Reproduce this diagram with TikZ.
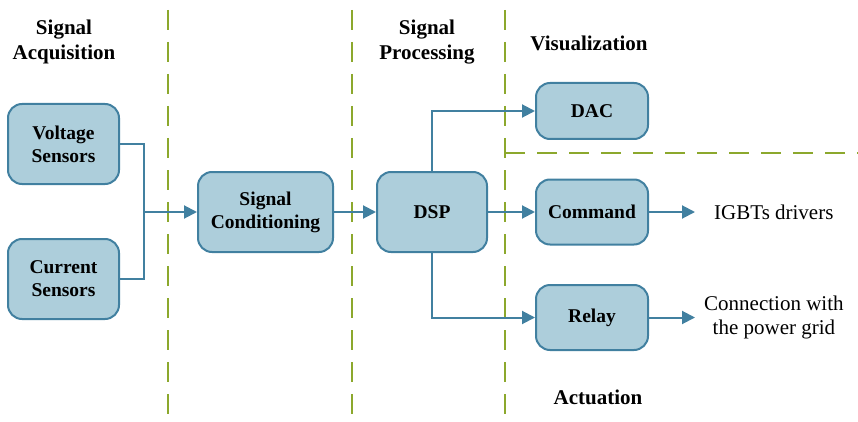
\documentclass[tikz,border=0pt]{standalone}
\usepackage{fontspec}
\setmainfont{Liberation Serif}
\usetikzlibrary{arrows.meta}
\definecolor{boxfill}{RGB}{173,206,219}
\definecolor{boxline}{RGB}{65,128,160}
\definecolor{sepgreen}{RGB}{140,168,45}
\begin{document}
\begin{tikzpicture}[x=1pt,y=-1pt,
  blk/.style={draw=boxline, fill=boxfill, line width=2pt, rounded corners=14pt,
    minimum width=111pt, minimum height=80pt, align=center, inner sep=0pt,
    font=\fontsize{19.5}{23}\selectfont\bfseries},
  ttl/.style={align=center, inner sep=0pt, font=\fontsize{21}{25}\selectfont\bfseries},
  plain/.style={align=center, inner sep=0pt, font=\fontsize{21}{24}\selectfont},
  conn/.style={draw=boxline, line width=2pt},
  arr/.style={conn, -{Triangle[length=13pt,width=13pt]}},
  sepline/.style={draw=sepgreen, line width=2.8pt, dash pattern=on 20pt off 12pt}
]
\useasboundingbox (0,0) rectangle (858,422);
% separators
\draw[sepline] (168,10) -- (168,422);
\draw[sepline] (352,10) -- (352,422);
\draw[sepline] (505,10) -- (505,422);
\draw[sepline] (505,153) -- (858,153);
% titles
\node[ttl] (tA) at (64,42) {Signal\\Acquisition};
\node[ttl] (tP) at (427,42) {Signal\\Processing};
\node[ttl] (tV) at (589,43) {Visualization};
\node[ttl] (tAc) at (598,397) {Actuation};
% blocks
\node[blk] (vs) at (63.5,144) {Voltage\\Sensors};
\node[blk] (cs) at (63.5,279) {Current\\Sensors};
\node[blk, minimum width=135pt] (sc) at (265.5,212) {Signal\\Conditioning};
\node[blk, minimum width=110pt] (dsp) at (432,212) {DSP};
\node[blk, minimum width=112pt, minimum height=56pt] (dac) at (592,111) {DAC};
\node[blk, minimum width=112pt, minimum height=65pt] (cmd) at (592,212) {Command};
\node[blk, minimum width=112pt, minimum height=65pt] (rel) at (592,317.5) {Relay};
\node[plain, anchor=west] (igbt) at (714,212) {IGBTs drivers};
\node[plain, anchor=west] (grid) at (704,317.5) {Connection with\\the power grid};
% connectors
\coordinate (j) at (144,212);
\draw[conn] (vs.east) -| (j);
\draw[conn] (cs.east) -| (j);
\draw[arr] (j) -- (sc.west);
\draw[arr] (sc.east) -- (dsp.west);
\draw[arr] (dsp.north) |- (dac.west);
\draw[arr] (dsp.east) -- (cmd.west);
\draw[arr] (dsp.south) |- (rel.west);
\draw[arr] (cmd.east) -- ([xshift=-19pt]igbt.west);
\draw[arr] (rel.east) -- ([xshift=-9pt]grid.west);
\end{tikzpicture}
\end{document}
